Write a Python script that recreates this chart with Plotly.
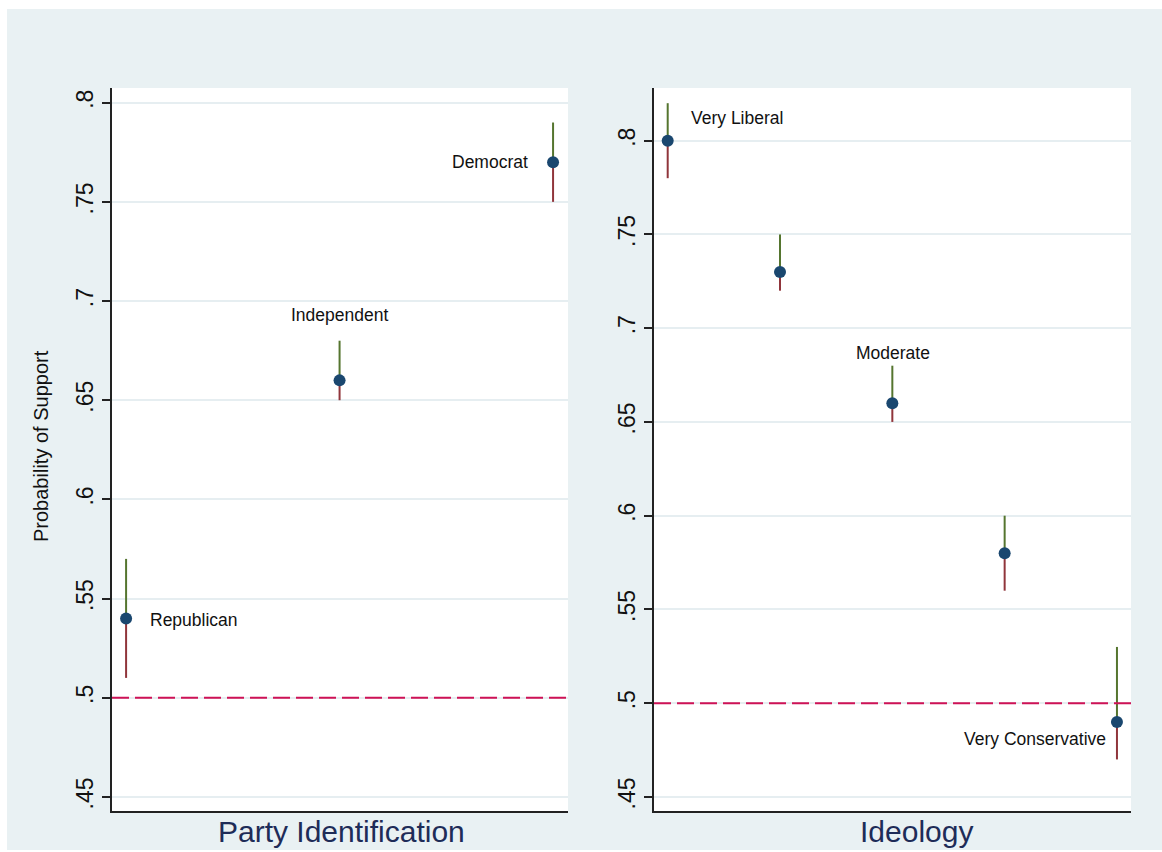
import plotly.graph_objects as go

# ---- data -------------------------------------------------------------
party_labels = ["Republican", "Independent", "Democrat"]
party_est = [0.54, 0.66, 0.77]
party_lo = [0.51, 0.65, 0.75]
party_hi = [0.57, 0.68, 0.79]

ideo_labels = ["Very Liberal", "", "Moderate", "", "Very Conservative"]
ideo_est = [0.80, 0.73, 0.66, 0.58, 0.49]
ideo_lo = [0.78, 0.72, 0.65, 0.56, 0.47]
ideo_hi = [0.82, 0.75, 0.68, 0.60, 0.53]

ytick_vals = [0.45, 0.5, 0.55, 0.6, 0.65, 0.7, 0.75, 0.8]
ytick_text = [".45", ".5", ".55", ".6", ".65", ".7", ".75", ".8"]
reference_level = 0.5

# ---- styling ----------------------------------------------------------
W, H = 1162, 852
FONT = "Liberation Sans, Arial, sans-serif"
BG = "#E9F1F3"
NAVY = "#1A476F"
GREEN = "#55752F"
MAROON = "#90353B"
CRANBERRY = "#CE1256"
GRID = "#E6EEF1"
TITLE_COL = "#1E2C58"


def px(x):
    return x / W


def py(y):
    return 1 - y / H


fig = go.Figure()


def add_panel(xa, ya, labels, est, lo, hi, label_pos):
    xs = list(range(1, len(est) + 1))
    lx, ly, ux, uy = [], [], [], []
    for x, e, l, h in zip(xs, est, lo, hi):
        lx += [x, x, None]
        ly += [e, l, None]
        ux += [x, x, None]
        uy += [e, h, None]
    fig.add_trace(go.Scatter(x=lx, y=ly, mode="lines", xaxis=xa, yaxis=ya,
                             line=dict(color=MAROON, width=2), hoverinfo="skip"))
    fig.add_trace(go.Scatter(x=ux, y=uy, mode="lines", xaxis=xa, yaxis=ya,
                             line=dict(color=GREEN, width=2), hoverinfo="skip"))
    fig.add_trace(go.Scatter(x=xs, y=est, mode="markers", xaxis=xa, yaxis=ya,
                             marker=dict(color=NAVY, size=12)))
    # reference line at 0.5
    fig.add_shape(type="line", xref=f"{xa} domain", yref=ya, x0=0, x1=1,
                  y0=reference_level, y1=reference_level,
                  line=dict(color=CRANBERRY, width=2, dash="17px,6px"))
    for x, e, txt, (xanc, xs_, ys_) in zip(xs, est, labels, label_pos):
        if not txt:
            continue
        fig.add_annotation(x=x, y=e, xref=xa, yref=ya, text=txt, showarrow=False,
                           xanchor=xanc, yanchor="middle", xshift=xs_, yshift=ys_,
                           font=dict(family=FONT, size=17.5, color="#111111"))


add_panel("x", "y", party_labels, party_est, party_lo, party_hi,
          [("left", 22, -2), ("center", 0, 65), ("right", -23, 0)])
add_panel("x2", "y2", ideo_labels, ideo_est, ideo_lo, ideo_hi,
          [("left", 21, 23), ("center", 0, 0), ("center", 1, 50), ("center", 0, 0),
           ("right", -9, -17)])

yaxis_common = dict(
    tickvals=ytick_vals, ticktext=ytick_text, tickangle=-90,
    ticks="outside", ticklen=8, tickwidth=1.5, tickcolor="#222222",
    tickfont=dict(family=FONT, size=23, color="#111111"),
    showline=True, linecolor="#222222", linewidth=1.5,
    showgrid=True, gridcolor=GRID, gridwidth=1.5, zeroline=False,
    automargin=False,
)
xaxis_common = dict(
    showticklabels=False, ticks="", showgrid=False, zeroline=False,
    showline=True, linecolor="#222222", linewidth=1.5, automargin=False,
)

y_dom = [py(811), py(88)]
fig.update_layout(
    width=W, height=H,
    margin=dict(l=0, r=0, t=0, b=0),
    paper_bgcolor=BG, plot_bgcolor="white",
    showlegend=False,
    xaxis=dict(domain=[px(112), px(568)], range=[0.934, 3.07], **xaxis_common),
    yaxis=dict(domain=y_dom, range=[0.4429, 0.8074], anchor="x", **yaxis_common),
    xaxis2=dict(domain=[px(654), px(1131)], range=[0.878, 5.125], anchor="y2",
                **xaxis_common),
    yaxis2=dict(domain=y_dom, range=[0.4425, 0.8281], anchor="x2", **yaxis_common),
)

# white border strips around the graph region
for x0, x1, y0, y1 in [(0, 7, 0, H), (0, W, 0, 9), (0, W, H - 2, H)]:
    fig.add_shape(type="rect", xref="paper", yref="paper",
                  x0=px(x0), x1=px(x1), y0=py(y1), y1=py(y0),
                  fillcolor="white", line=dict(width=0), layer="below")

# axis titles
fig.add_annotation(x=px(41), y=py(446), xref="paper", yref="paper",
                   xanchor="center", yanchor="middle",
                   text="Probability of Support", textangle=-90, showarrow=False,
                   font=dict(family=FONT, size=20, color="#111111"))
fig.add_annotation(x=px(341), y=py(831), xref="paper", yref="paper",
                   xanchor="center", yanchor="middle",
                   text="Party Identification", showarrow=False,
                   font=dict(family=FONT, size=30, color=TITLE_COL))
fig.add_annotation(x=px(916), y=py(831), xref="paper", yref="paper",
                   xanchor="center", yanchor="middle",
                   text="Ideology", showarrow=False,
                   font=dict(family=FONT, size=30, color=TITLE_COL))

fig.write_html("out.html")
